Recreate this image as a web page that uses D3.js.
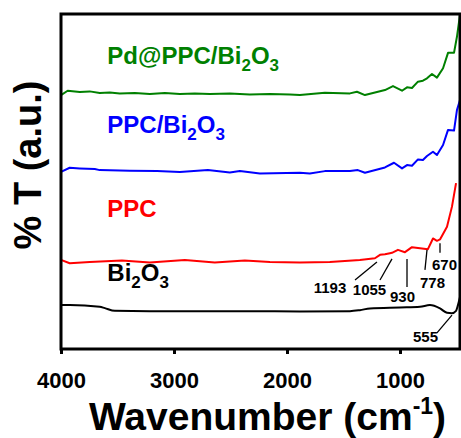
<!DOCTYPE html>
<html>
<head>
<meta charset="utf-8">
<script src="https://cdn.jsdelivr.net/npm/d3@7"></script>
<style>
  body { margin: 0; background: #fff; }
  text { font-family: "Liberation Sans", Arial, sans-serif; font-weight: bold; }
</style>
</head>
<body>
<div id="vizcontainer"></div>
<script>
// FTIR spectra, wavenumber (cm-1) vs %T (arbitrary, offset)
const pdPpcBi2o3 = [
  [4000, 75.8], [3941, 77.1], [3834, 76.7], [3746, 76.9], [3657, 76.4], [3568, 76.6],
  [3480, 76.3], [3347, 76.4], [3214, 76.1], [3081, 76.4], [2948, 76.1], [2816, 76.3],
  [2683, 76.1], [2506, 76.3], [2329, 76.0], [2151, 76.1], [1974, 76.0], [1886, 75.8],
  [1665, 76.5], [1443, 76.3], [1381, 76.8], [1310, 75.8], [1133, 77.3], [1062, 78.5],
  [982, 77.1], [938, 78.1], [894, 77.9], [841, 79.8], [797, 80.1], [761, 80.8],
  [717, 82.1], [673, 81.0], [619, 83.8], [575, 88.4], [522, 88.4], [496, 93.2], [469, 99.7]
];
const ppcBi2o3 = [
  [4000, 52.9], [3923, 54.1], [3834, 53.9], [3701, 53.7], [3657, 53.4], [3391, 53.2],
  [3151, 53.1], [2948, 52.8], [2700, 53.4], [2506, 52.7], [2417, 53.1], [2240, 52.4],
  [1886, 52.6], [1798, 52.4], [1665, 53.1], [1443, 53.1], [1373, 53.4], [1310, 52.6],
  [1133, 54.2], [1053, 55.6], [982, 53.9], [938, 54.9], [894, 54.7], [841, 56.6],
  [797, 56.4], [761, 57.6], [708, 58.9], [673, 57.9], [619, 60.9], [575, 65.4],
  [522, 65.2], [496, 71.3], [469, 74.3]
];
const ppc = [
  [4000, 26.6], [3923, 25.6], [3746, 26.0], [3461, 26.4], [3214, 25.8], [2904, 26.6],
  [2639, 25.8], [2373, 26.4], [2151, 26.0], [1886, 25.8], [1621, 26.0], [1355, 26.6],
  [1222, 27.1], [1177, 28.1], [1133, 28.3], [1089, 28.6], [1071, 28.7], [1018, 29.6],
  [956, 28.9], [894, 30.4], [823, 30.1], [753, 29.8], [708, 33.0], [673, 32.3],
  [646, 32.7], [584, 36.5], [540, 42.5], [504, 49.5]
];
const bi2o3 = [
  [4000, 13.1], [3923, 13.1], [3657, 12.6], [3612, 12.2], [3524, 11.4], [3214, 11.3],
  [2771, 11.3], [2329, 11.3], [1886, 11.2], [1443, 11.3], [1355, 11.6], [1266, 12.1],
  [1000, 12.4], [823, 12.6], [735, 13.1], [646, 12.1], [584, 10.8], [540, 10.7],
  [504, 11.4], [487, 13.1], [469, 15.5]
];
const xTicks = [4000, 3000, 2000, 1000];

// peak annotations: label, leader line from/to and label anchor (wavenumber, %T)
const peaks = [
  { label: '1193', from: [1398, 20.6], to: [1204, 26.0], at: [1619, 16.7] },
  { label: '1055', from: [1177, 20.6], to: [1071, 26.9], at: [1270, 16.1] },
  { label: '930', from: [938, 18.5], to: [938, 26.9], at: [978, 14.0] },
  { label: '778', from: [779, 23.6], to: [761, 29.6], at: [712, 18.2] },
  { label: '670', from: [646, 28.7], to: [646, 31.6], at: [606, 23.6] },
  { label: '555', from: [673, 4.8], to: [540, 10.1], at: [774, 2.1] }
];

const series = [
  { name: 'Pd@PPC/Bi2O3', data: pdPpcBi2o3, color: '#008000', parts: [['Pd@PPC/Bi'], ['2', 1], ['O'], ['3', 1]], lv: 83.0 },
  { name: 'PPC/Bi2O3', data: ppcBi2o3, color: '#0000ff', parts: [['PPC/Bi'], ['2', 1], ['O'], ['3', 1]], lv: 62.4 },
  { name: 'PPC', data: ppc, color: '#ff0000', parts: [['PPC']], lv: 37.3 },
  { name: 'Bi2O3', data: bi2o3, color: '#000000', parts: [['Bi'], ['2', 1], ['O'], ['3', 1]], lv: 18.2, smooth: true }
];

const width = 461,
  height = 438;
const margin = { top: 14, right: 1, bottom: 89, left: 61 };

const svg = d3.select('#vizcontainer')
  .append('svg')
  .attr('width', width)
  .attr('height', height);

const x = d3.scaleLinear()
  .domain([4000, 469])
  .range([margin.left, width - margin.right]);

const y = d3.scaleLinear()
  .domain([0, 100])
  .range([height - margin.bottom, margin.top]);

// spectra
series.forEach(s => {
  const line = d3.line()
    .x(d => x(d[0]))
    .y(d => y(d[1]))
    .curve(s.smooth ? d3.curveMonotoneX : d3.curveLinear);
  svg.append('path')
    .datum(s.data)
    .attr('d', line)
    .attr('fill', 'none')
    .attr('stroke', s.color)
    .attr('stroke-width', 2)
    .attr('stroke-linejoin', 'round');

  const t = svg.append('text')
    .attr('x', x(3590))
    .attr('y', y(s.lv))
    .attr('fill', s.color)
    .style('font-size', '24px');
  s.parts.forEach(p => {
    if (p[1]) {
      t.append('tspan').text(p[0]).attr('dy', 7).style('font-size', '17px');
    } else {
      t.append('tspan').text(p[0]).attr('dy', t.selectAll('tspan').size() ? -7 : 0);
    }
  });
});

// peak labels
peaks.forEach(p => {
  svg.append('line')
    .attr('x1', x(p.from[0])).attr('y1', y(p.from[1]))
    .attr('x2', x(p.to[0])).attr('y2', y(p.to[1]))
    .attr('stroke', '#000')
    .attr('stroke-width', 1.3);
  svg.append('text')
    .attr('x', x(p.at[0]))
    .attr('y', y(p.at[1]))
    .attr('text-anchor', 'middle')
    .style('font-size', '15px')
    .text(p.label);
});

// frame
svg.append('rect')
  .attr('x', margin.left)
  .attr('y', margin.top)
  .attr('width', width - margin.right - margin.left)
  .attr('height', height - margin.bottom - margin.top)
  .attr('fill', 'none')
  .attr('stroke', '#000')
  .attr('stroke-width', 3);

// x axis
const xAxis = svg.append('g')
  .attr('transform', `translate(0,${height - margin.bottom})`)
  .call(d3.axisBottom(x).tickValues(xTicks).tickSize(5).tickPadding(18).tickFormat(d3.format('d')));
xAxis.select('.domain').remove();
xAxis.selectAll('line').attr('stroke-width', 3);
xAxis.selectAll('text')
  .style('font-family', '"Liberation Sans", Arial, sans-serif')
  .style('font-weight', 'bold')
  .style('font-size', '22px');

// axis titles
const xt = svg.append('text')
  .attr('x', 89)
  .attr('y', 430)
  .style('font-size', '39px');
xt.append('tspan').text('Wavenumber (cm');
xt.append('tspan').text('-1').attr('dy', -16).style('font-size', '23px');
xt.append('tspan').text(')').attr('dy', 16);

svg.append('text')
  .attr('transform', 'translate(41,165) rotate(-90)')
  .attr('text-anchor', 'middle')
  .style('font-size', '38px')
  .text('% T (a.u.)');
</script>
</body>
</html>
